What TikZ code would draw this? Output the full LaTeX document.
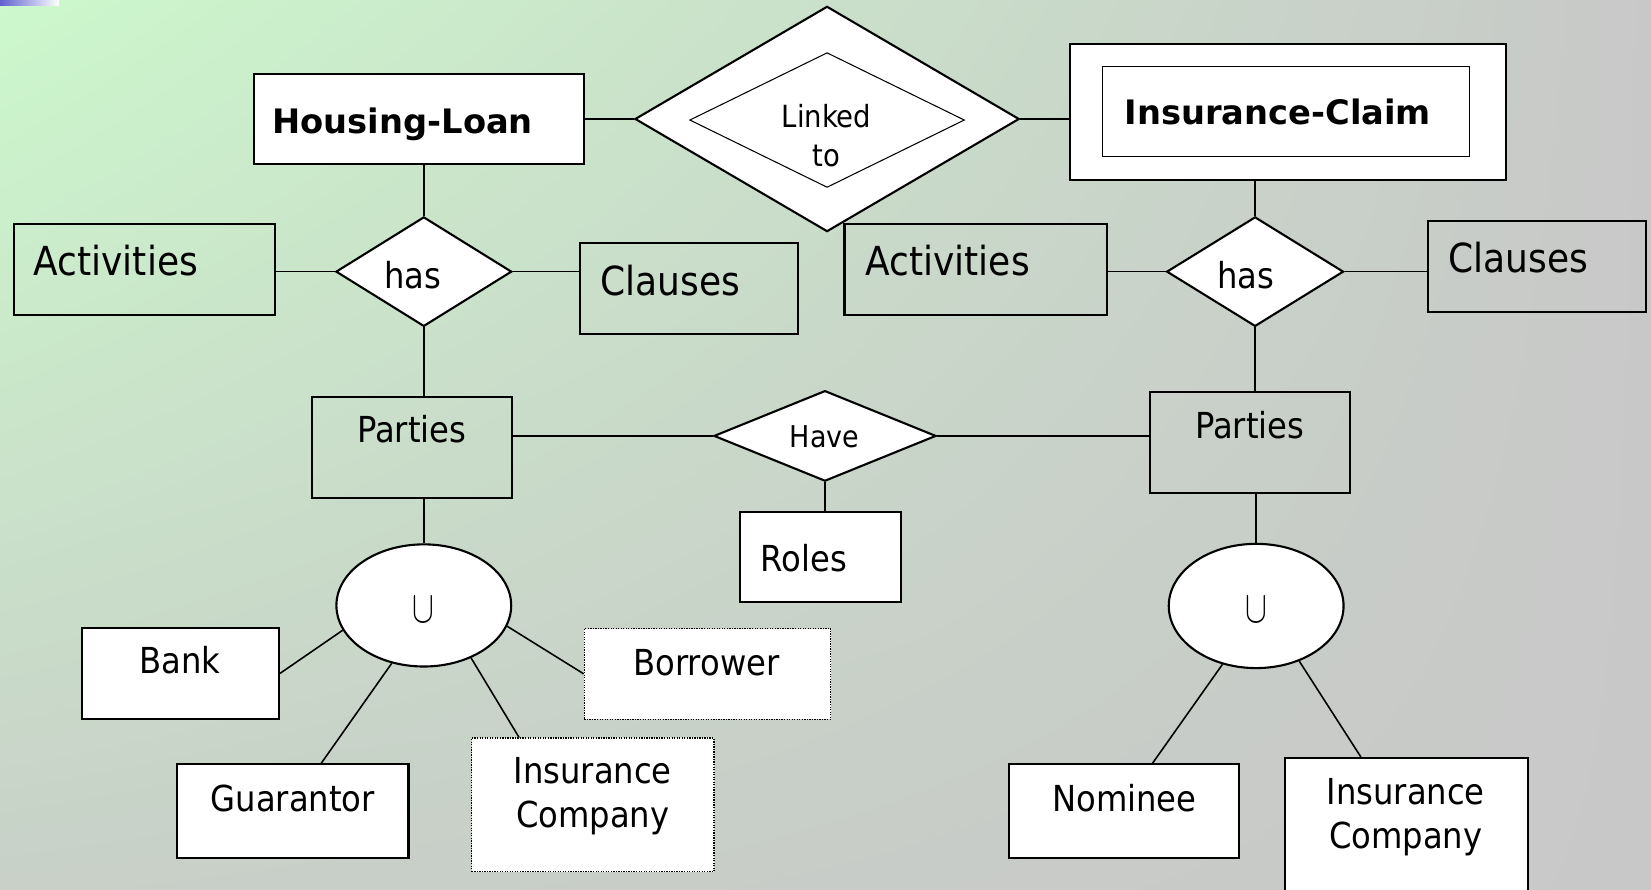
\documentclass[tikz,border=0pt]{standalone}
\usepackage{graphicx}
\usepackage{fontspec}
\setmainfont{DejaVu Sans Condensed}
\newfontfamily\headfont{DejaVu Sans}
\usetikzlibrary{shapes.geometric,shadings}

\definecolor{bgtl}{RGB}{204,248,204}
\definecolor{bgbl}{RGB}{200,208,200}
\definecolor{bggr}{RGB}{200,200,200}
\definecolor{barblue}{RGB}{96,96,208}

\tikzset{
  ent/.style={draw, line width=2pt, fill=white, inner sep=0pt},
  att/.style={draw, line width=2pt, inner sep=0pt},
  dotbox/.style={draw, line width=1.2pt, dash pattern=on 1.2pt off 1.2pt, fill=white, inner sep=0pt},
  rel/.style={diamond, draw, line width=2pt, fill=white, inner sep=0pt},
  uni/.style={ellipse, draw, line width=2pt, fill=white, inner sep=0pt},
  lbl/.style={inner sep=0pt, text height=24.8pt, text depth=0pt, font=\fontsize{34}{40}\selectfont},
  big/.style={lbl, text height=27.7pt, font=\fontsize{38}{44}\selectfont},
  head/.style={lbl, text height=23.3pt, font=\headfont\bfseries\fontsize{32}{38}\selectfont},
  con/.style={line width=1.5pt}
}

\begin{document}
\begin{tikzpicture}[x=1pt,y=-1pt]
  \useasboundingbox (0,0) rectangle (1568,845);
  \shade[upper left=bgtl, upper right=bggr, lower left=bgbl, lower right=bggr] (0,0) rectangle (1568,845);
  \shade[left color=barblue, right color=white] (0,0) rectangle (56,5);

  % the two entities and the link
  \node[ent, minimum width=314, minimum height=86] (hl) at (398,113) {};
  \node[head] (hlt) at (382.5,115) {Housing-Loan};
  \node[rel, minimum width=365, minimum height=214] (link) at (785.5,113) {};
  \node[rel, line width=1pt, minimum width=261, minimum height=128] (linkin) at (785.5,114) {};
  \node[align=center, inner sep=0pt, font=\fontsize{29}{37}\selectfont] (linkt) at (785,129) {Linked\\to};
  \node[ent, minimum width=414, minimum height=129] (ic) at (1223,106.5) {};
  \node[draw, line width=1pt, inner sep=0pt, minimum width=349, minimum height=86] (icin) at (1221.5,106) {};
  \node[head] (ict) at (1213.5,107) {Insurance-Claim};

  % left side
  \node[rel, minimum width=167, minimum height=104] (hasl) at (402.5,258) {};
  \node[lbl] (haslt) at (392,262) {has};
  \node[att, minimum width=248, minimum height=86] (actl) at (137,256) {};
  \node[big] (actlt) at (110,248) {Activities};
  \node[att, minimum width=207, minimum height=86] (clsl) at (654.5,274) {};
  \node[big] (clslt) at (636.5,267) {Clauses};
  \node[att, minimum width=190, minimum height=96] (lpar) at (391,425) {};
  \node[lbl] (lpart) at (391,408) {Parties};

  % right side
  \node[rel, minimum width=168, minimum height=104] (hasr) at (1192,258) {};
  \node[lbl] (hasrt) at (1183,262) {has};
  \node[att, minimum width=249, minimum height=86] (actr) at (926.5,256) {};
  \node[big] (actrt) at (900,248) {Activities};
  \node[att, minimum width=207, minimum height=86] (clsr) at (1459.5,253) {};
  \node[big] (clsrt) at (1442,245) {Clauses};
  \node[att, minimum width=190, minimum height=96] (rpar) at (1187,420) {};
  \node[lbl] (rpart) at (1187,404) {Parties};

  % roles
  \node[rel, minimum width=211, minimum height=86] (have) at (783.5,414) {};
  \node[lbl, text height=20.8pt, font=\fontsize{28.5}{34}\selectfont] (havet) at (783,415) {Have};
  \node[ent, minimum width=153, minimum height=86] (roles) at (779.5,529) {};
  \node[lbl] (rolest) at (763.5,530) {Roles};

  % unions
  \node[uni, minimum width=166, minimum height=116] (lu) at (402.5,575) {};
  \node[inner sep=0pt] (lut) at (402.5,579) {\scalebox{3.1}[4.3]{$\cup$}};
  \node[uni, minimum width=166, minimum height=118] (ru) at (1193,575.5) {};
  \node[inner sep=0pt] (rut) at (1193,579) {\scalebox{3.1}[4.3]{$\cup$}};

  \node[ent, minimum width=187, minimum height=87] (bank) at (171.5,639.5) {};
  \node[lbl] (bankt) at (171,627) {Bank};
  \node[ent, minimum width=220, minimum height=89] (guar) at (278,770.5) {};
  \node[lbl] (guart) at (278,758) {Guarantor};
  \node[dotbox, minimum width=230, minimum height=127] (insl) at (563,764.5) {};
  \node[align=center, inner sep=0pt, font=\fontsize{34}{42}\selectfont] (inslt) at (563,756) {Insurance\\Company};
  \node[dotbox, minimum width=234, minimum height=86] (borr) at (672,640) {};
  \node[lbl] (borrt) at (671,629) {Borrower};
  \node[ent, minimum width=219, minimum height=89] (nom) at (1067.5,770.5) {};
  \node[lbl] (nomt) at (1068,758) {Nominee};
  \node[ent, minimum width=231, minimum height=150] (insr) at (1335.5,795) {};
  \node[align=center, inner sep=0pt, font=\fontsize{34}{42}\selectfont] (insrt) at (1335,776) {Insurance\\Company};

  % connectors
  \draw[con] (link.west) -- (link.west -| hl.east);
  \draw[con] (link.east) -- (link.east -| ic.west);
  \draw[con] (hasl.north) -- (hasl.north |- hl.south);
  \draw[con] (hasl.west) -- (hasl.west -| actl.east);
  \draw[con] (hasl.east) -- (hasl.east -| clsl.west);
  \draw[con] (hasl.south) -- (hasl.south |- lpar.north);
  \draw[con] (hasr.north) -- (hasr.north |- ic.south);
  \draw[con] (hasr.west) -- (hasr.west -| actr.east);
  \draw[con] (hasr.east) -- (hasr.east -| clsr.west);
  \draw[con] (hasr.south) -- (hasr.south |- rpar.north);
  \draw[con] (have.west) -- (have.west -| lpar.east);
  \draw[con] (have.east) -- (have.east -| rpar.west);
  \draw[con] (have.south) -- (have.south |- roles.north);
  \draw[con] (lu.north) -- (lu.north |- lpar.south);
  \draw[con] (ru.north) -- (ru.north |- rpar.south);
  \draw[con] (lu.197) -- (bank.east);
  \draw[con] (lu.241) -- ([xshift=27pt]guar.north);
  \draw[con] (lu.312) -- ([xshift=-70pt]insl.north);
  \draw[con] (lu.346) -- (borr.west);
  \draw[con] (ru.240) -- ([xshift=27pt]nom.north);
  \draw[con] (ru.308) -- ([xshift=-43pt]insr.north);
\end{tikzpicture}
\end{document}
